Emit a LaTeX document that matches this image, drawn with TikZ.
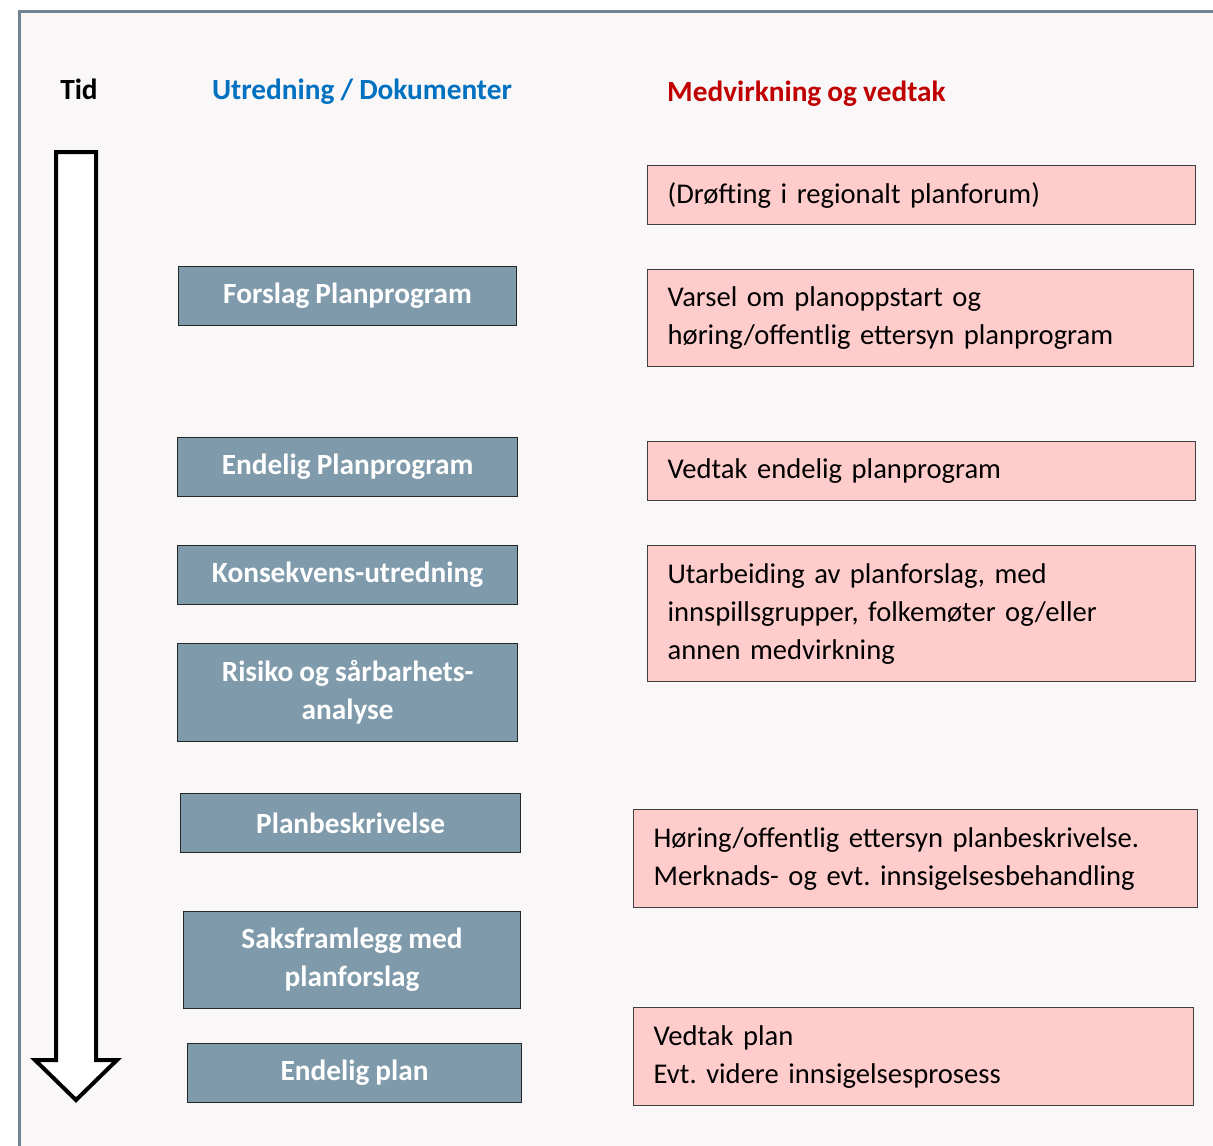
\documentclass[tikz,border=0pt]{standalone}
\usepackage{fontspec}
\setmainfont{Carlito}[WordSpace={0.92,0,0}]
\frenchspacing
\definecolor{frameC}{HTML}{6F8393}
\definecolor{bgC}{HTML}{F9F7F8}
\definecolor{leftC}{HTML}{7F9AAA}
\definecolor{pinkC}{HTML}{FFCCCC}
\definecolor{blueH}{HTML}{0070C0}
\definecolor{redH}{HTML}{C00000}
\tikzset{
  leftbox/.style={draw=black!85, line width=1.2pt, fill=leftC, text=white,
    font=\fontsize{29.3}{38}\selectfont\bfseries, align=center, inner sep=0pt, anchor=north west},
  pinkbox/.style={draw=black!75, line width=1.2pt, fill=pinkC, text=black,
    font=\fontsize{28.6}{38}\selectfont\frenchspacing, align=left, inner xsep=20pt, inner ysep=0pt, anchor=north west},
  header/.style={font=\fontsize{29.3}{32}\selectfont\bfseries, inner sep=0pt, anchor=base}
}
\begin{document}
\begin{tikzpicture}[x=1pt,y=-1pt]
\useasboundingbox (0,0) rectangle (1213,1146);
\fill[white] (0,0) rectangle (1213,1146);
\draw[frameC, line width=3pt, fill=bgC] (19.5,11.5) rectangle (1240,1170);

% time arrow
\draw[line width=4pt, fill=white, line join=miter]
  (56,152) -- (96,152) -- (96,1060) -- (117,1060) -- (76,1100) -- (35,1060) -- (56,1060) -- cycle;

% headers
\node[header, text=black] (tid) at (79,99) {Tid};
\node[header, text=blueH] (hutr) at (362,99) {Utredning / Dokumenter};
\node[header, text=redH, anchor=base west] (hmed) at (667,101) {Medvirkning og vedtak};

% left boxes
\node[leftbox, minimum width=338, minimum height=59] (l1) at (178,266) {Forslag Planprogram};
\node[leftbox, minimum width=340, minimum height=59] (l2) at (177,437) {Endelig Planprogram};
\node[leftbox, minimum width=340, minimum height=59] (l3) at (177,545) {Konsekvens-utredning};
\node[leftbox, minimum width=340, minimum height=98] (l4) at (177,643) {Risiko og sårbarhets-\\analyse};
\node[leftbox, minimum width=340, minimum height=59] (l5) at (180,793) {Planbeskrivelse};
\node[leftbox, minimum width=337, minimum height=97] (l6) at (183,911) {Saksframlegg med\\planforslag};
\node[leftbox, minimum width=334, minimum height=59] (l7) at (187,1043) {Endelig plan};

% right boxes
\node[pinkbox, minimum width=548, minimum height=59, text width=508] (r1) at (647,165) {(Drøfting i regionalt planforum)};
\node[pinkbox, minimum width=546, minimum height=97, text width=506] (r2) at (647,269) {Varsel om planoppstart og\\høring/offentlig ettersyn planprogram};
\node[pinkbox, minimum width=548, minimum height=59, text width=508] (r3) at (647,441) {Vedtak endelig planprogram};
\node[pinkbox, minimum width=548, minimum height=136, text width=508] (r4) at (647,545) {Utarbeiding av planforslag, med\\innspillsgrupper, folkemøter og/eller\\annen medvirkning};
\node[pinkbox, minimum width=564, minimum height=98, text width=524] (r5) at (633,809) {Høring/offentlig ettersyn planbeskrivelse.\\Merknads- og evt. innsigelsesbehandling};
\node[pinkbox, minimum width=560, minimum height=98, text width=520] (r6) at (633,1007) {Vedtak plan\\Evt. videre innsigelsesprosess};
\end{tikzpicture}
\end{document}
